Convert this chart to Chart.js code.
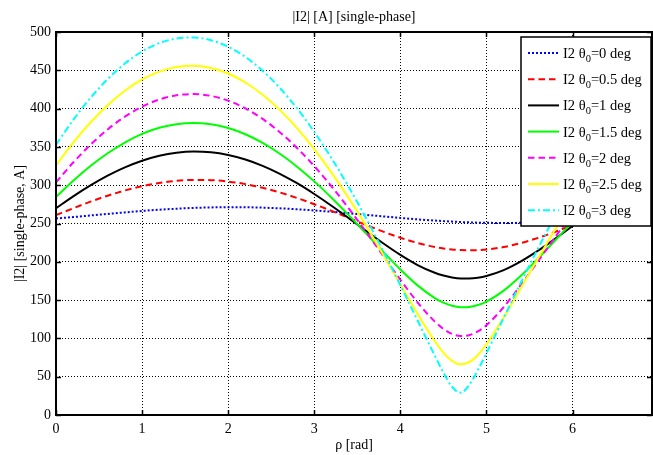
<!DOCTYPE html>
<html><head><meta charset="utf-8">
<script src="https://cdn.jsdelivr.net/npm/chart.js@4/dist/chart.umd.min.js"></script>
<style>html,body{margin:0;padding:0;background:#fff;}</style>
</head><body>
<canvas id="c" width="653" height="455"></canvas>
<script>
// ---- data ----
const rho = [0,0.2,0.4,0.6,0.8,1.0,1.2,1.4,1.6,1.8,2.0,2.2,2.4,2.6,2.8,3.0,3.2,3.4,3.6,3.8,4.0,4.2,4.4,4.5,4.6,4.7,4.8,4.9,5.0,5.2,5.4,5.6,5.8,6.0,6.2,6.28];
const i2_th0_0   = [256.5,258.4,260.5,262.5,264.5,266.4,268.0,269.3,270.4,271.0,271.3,271.2,270.7,269.8,268.6,267.0,265.3,263.4,261.3,259.3,257.3,255.4,253.8,253.1,252.5,251.9,251.5,251.1,250.9,250.7,250.9,251.6,252.7,254.1,255.7,256.5];
const i2_th0_0_5 = [260.9,269.9,278.5,286.3,293.1,298.7,302.9,305.7,306.9,306.6,304.8,301.4,296.6,290.5,283.3,275.2,266.4,257.3,248.2,239.4,231.4,224.6,219.4,217.5,216.1,215.3,215.0,215.3,216.1,219.3,224.5,231.2,239.2,248.0,257.1,260.8];
const i2_th0_1   = [269.9,285.5,299.8,312.5,323.3,332.0,338.5,342.5,344.0,343.0,339.5,333.6,325.3,314.9,302.6,288.5,273.2,257.0,240.4,224.2,209.0,195.8,185.7,182.1,179.6,178.2,178.1,179.1,181.4,189.1,200.5,214.5,230.2,246.7,263.2,269.6];
const i2_th0_1_5 = [284.6,305.8,325.0,341.7,355.7,366.9,374.9,379.7,381.3,379.6,374.6,366.5,355.2,341.0,324.2,305.0,283.7,260.9,237.1,213.1,190.0,169.2,152.7,146.8,142.7,140.8,141.1,143.5,148.1,162.4,181.8,204.3,228.1,252.1,275.3,284.3];
const i2_th0_2   = [303.7,329.6,352.8,372.8,389.5,402.5,411.9,417.4,419.0,416.6,410.4,400.3,386.5,369.2,348.6,324.9,298.5,269.8,239.4,208.0,176.6,147.0,121.9,112.4,105.9,103.1,104.2,109.1,117.3,140.8,169.8,200.9,232.4,263.2,292.2,303.3];
const i2_th0_2_5 = [325.8,355.5,381.8,404.5,423.3,438.0,448.3,454.4,456.0,453.1,445.8,434.1,418.2,398.3,374.5,347.1,316.5,283.1,247.2,209.4,170.6,132.0,96.3,81.5,70.7,66.1,68.9,78.3,92.4,127.3,165.8,204.7,242.6,278.8,312.5,325.3];
const i2_th0_3   = [352.7,385.2,413.9,438.5,458.8,474.5,485.5,491.6,492.9,489.2,480.7,467.4,449.4,427.0,400.3,369.6,335.3,297.8,257.3,214.3,169.4,123.3,77.4,55.5,36.9,29.1,39.3,58.7,80.8,126.8,172.9,217.6,260.4,300.7,338.1,352.1];
const seriesLabels = ['I2 θ₀=0 deg','I2 θ₀=0.5 deg','I2 θ₀=1 deg','I2 θ₀=1.5 deg','I2 θ₀=2 deg','I2 θ₀=2.5 deg','I2 θ₀=3 deg'];
const xTicks = [0,1,2,3,4,5,6];
const yTicks = [0,50,100,150,200,250,300,350,400,450,500];
const titleText = '|I2| [A] [single-phase]';
const xTitle = 'ρ [rad]';
const yTitle = '|I2| [single-phase, A]';

// ---- styles ----
const FONT = "'Liberation Serif','Times New Roman',serif";
const allSeries = [i2_th0_0,i2_th0_0_5,i2_th0_1,i2_th0_1_5,i2_th0_2,i2_th0_2_5,i2_th0_3];
const colors = ['#0000ff','#ff0000','#000000','#00ff00','#ff00ff','#ffff00','#00ffff'];
const dashes = [[2,2],[6.5,4],[],[],[6.5,4],[],[7,3,2,3]];

const datasets = allSeries.map((vals,i)=>({
  label: seriesLabels[i],
  data: rho.map((r,j)=>({x:r,y:vals[j]})),
  borderColor: colors[i],
  borderDash: dashes[i],
  borderWidth: 2,
  pointRadius: 0,
  fill: false,
  cubicInterpolationMode: 'monotone',
  order: allSeries.length - i
}));

const decor = {
  id: 'decor',
  afterDatasetsDraw(chart){
    const {ctx, chartArea:{left,right,top,bottom}, scales:{x,y}} = chart;
    ctx.save();
    // inward tick marks
    ctx.strokeStyle = '#000'; ctx.lineWidth = 1.5; ctx.setLineDash([]);
    ctx.beginPath();
    xTicks.forEach(v=>{const px=Math.round(x.getPixelForValue(v))+0.5;
      ctx.moveTo(px,bottom); ctx.lineTo(px,bottom-5); ctx.moveTo(px,top); ctx.lineTo(px,top+5);});
    yTicks.forEach(v=>{const py=Math.round(y.getPixelForValue(v))+0.5;
      ctx.moveTo(left,py); ctx.lineTo(left+5,py); ctx.moveTo(right,py); ctx.lineTo(right-5,py);});
    ctx.stroke();
    // frame
    ctx.lineWidth = 2;
    ctx.strokeRect(left, top, right-left, bottom-top);
    // title
    ctx.fillStyle = '#000';
    ctx.font = '14px ' + FONT;
    ctx.textAlign = 'center'; ctx.textBaseline = 'middle';
    ctx.fillText(titleText, (left+right)/2, 17);
    // legend
    const lx1 = right - 1, lx0 = lx1 - 130, ly0 = top + 5, lh = 189;
    ctx.fillStyle = '#fff';
    ctx.fillRect(lx0, ly0, lx1-lx0, lh);
    ctx.strokeStyle = '#000'; ctx.lineWidth = 1.5;
    ctx.strokeRect(lx0, ly0, lx1-lx0, lh);
    chart.data.datasets.forEach((ds,i)=>{
      const yy = ly0 + 16 + i*26.2;
      ctx.strokeStyle = ds.borderColor; ctx.lineWidth = 2; ctx.setLineDash(ds.borderDash);
      ctx.beginPath(); ctx.moveTo(lx0+7, yy); ctx.lineTo(lx0+38, yy); ctx.stroke();
      ctx.setLineDash([]);
      const parts = ds.label.split('₀');
      ctx.fillStyle = '#000'; ctx.textAlign = 'left'; ctx.textBaseline = 'alphabetic';
      let tx = lx0 + 42;
      const base = yy + 5;
      ctx.font = '14.5px ' + FONT;
      ctx.fillText(parts[0], tx, base); tx += ctx.measureText(parts[0]).width;
      ctx.font = '10.5px ' + FONT;
      ctx.fillText('0', tx, base + 4); tx += ctx.measureText('0').width;
      ctx.font = '14.5px ' + FONT;
      ctx.fillText(parts[1], tx, base);
    });
    ctx.restore();
  }
};

new Chart(document.getElementById('c'), {
  type: 'line',
  data: { datasets },
  options: {
    responsive: false, animation: false, devicePixelRatio: 1,
    layout: { padding: { top: 32, right: 1, left: 0, bottom: 0 } },
    plugins: { legend: { display: false }, title: { display: false }, tooltip: { enabled: false } },
    scales: {
      x: {
        type: 'linear', min: 0, max: 6.923,
        afterBuildTicks: s => { s.ticks = xTicks.map(v => ({ value: v })); },
        afterFit: s => { s.height = 40; },
        grid: { color: '#000', lineWidth: 1, drawTicks: false },
        border: { display: false, dash: [1, 2] },
        ticks: { padding: 6, color: '#000', font: { family: FONT, size: 14 }, maxRotation: 0, autoSkip: false },
        title: { display: true, text: xTitle, color: '#000', font: { family: FONT, size: 14 }, padding: { top: 0, bottom: 1 } }
      },
      y: {
        type: 'linear', min: 0, max: 500,
        afterBuildTicks: s => { s.ticks = yTicks.map(v => ({ value: v })); },
        afterFit: s => { s.width = 56; },
        grid: { color: '#000', lineWidth: 1, drawTicks: false },
        border: { display: false, dash: [1, 2] },
        ticks: { padding: 5, color: '#000', font: { family: FONT, size: 14 }, autoSkip: false },
        title: { display: true, text: yTitle, color: '#000', font: { family: FONT, size: 14 }, padding: { top: 12, bottom: 0 } }
      }
    }
  },
  plugins: [decor]
});
</script>
</body></html>
